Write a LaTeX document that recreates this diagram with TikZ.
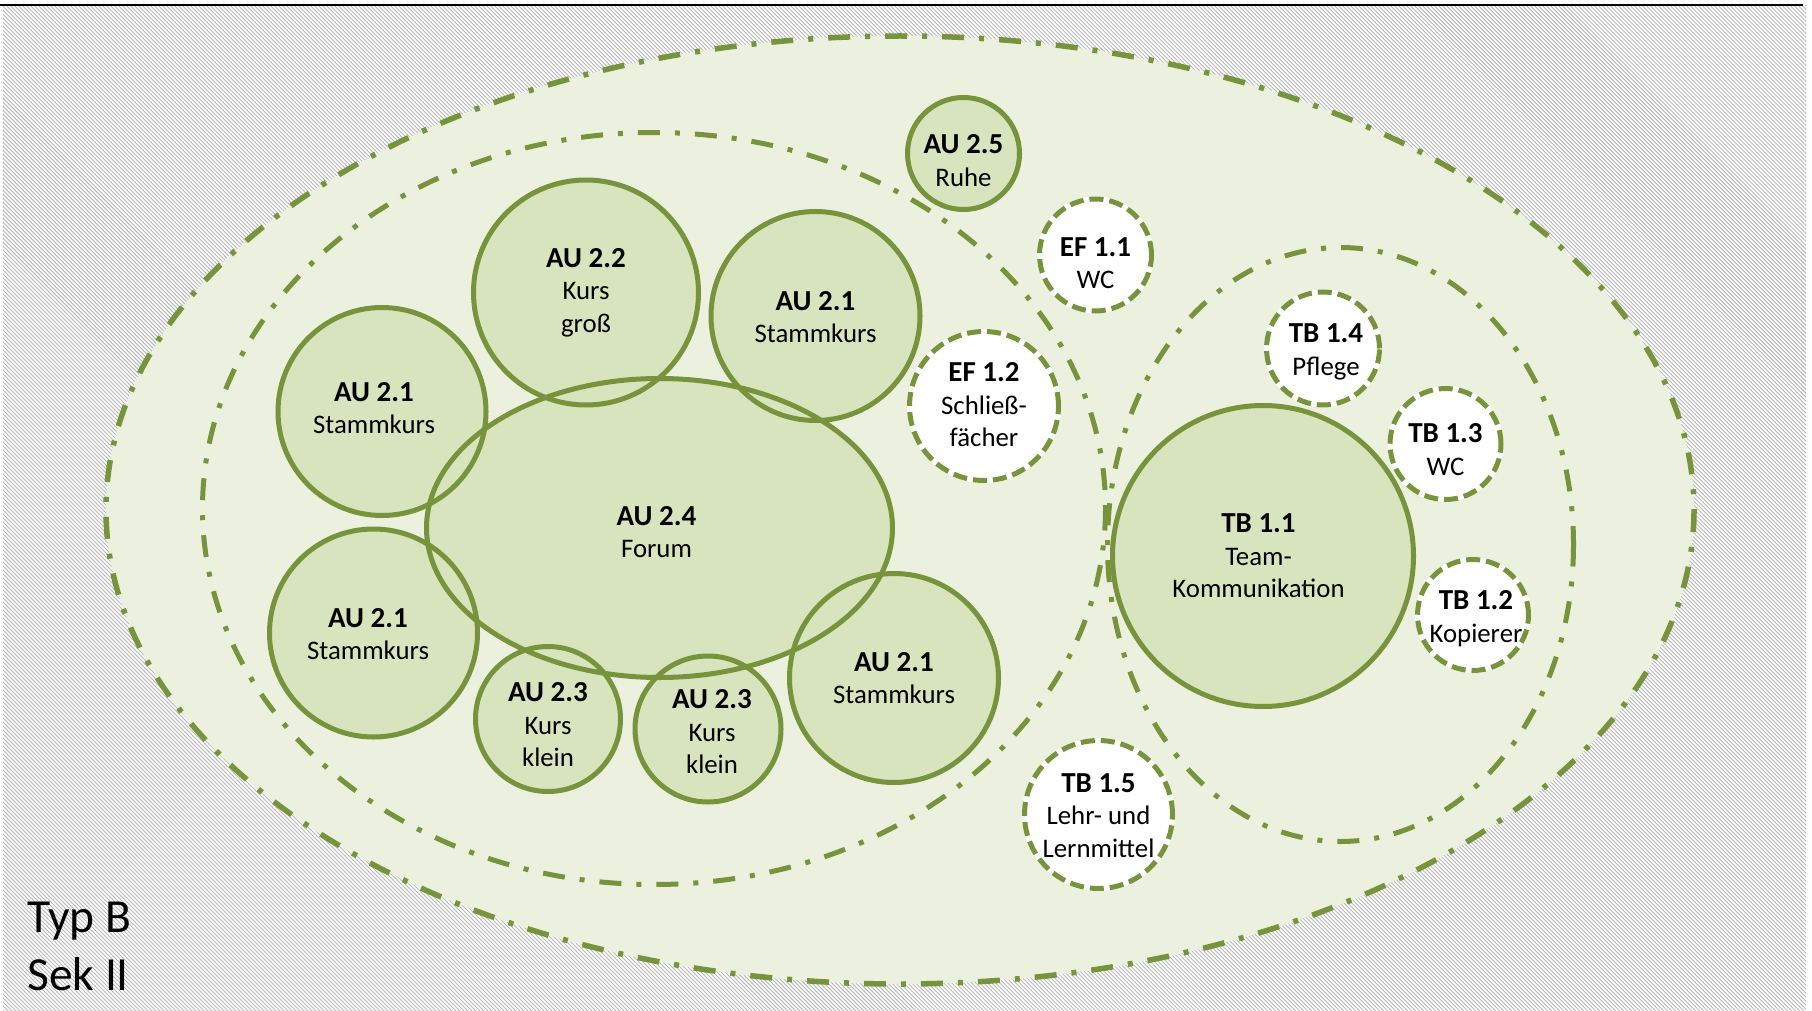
\documentclass[tikz,border=0pt]{standalone}
\usepackage{fontspec}
\setmainfont{Carlito}
\usetikzlibrary{patterns.meta,shapes.geometric}
\definecolor{olv}{HTML}{77933C}
\definecolor{pale}{HTML}{EBF1DE}
\definecolor{cfill}{HTML}{D7E4BD}
\newcommand{\twolab}[2]{{\fontsize{29}{32.5}\selectfont\bfseries #1}\\#2}
\begin{document}
\begin{tikzpicture}[x=1pt,y=-1pt,
  labelfont/.style={font=\fontsize{26.8}{32.5}\selectfont},
  room/.style={circle,draw=olv,line width=5pt,inner sep=0pt},
  auxroom/.style={circle,draw=olv,line width=5pt,dash pattern=on 14pt off 6pt,inner sep=0pt},
  roomtext/.style={align=center,inner sep=0pt,labelfont},
  zone/.style={draw=olv,line width=5pt,dash pattern=on 22pt off 15pt on 5pt off 15pt}]
% background
\useasboundingbox (0,0) rectangle (1812,1011);
\fill[white] (0,0) rectangle (1812,1011);
\fill[pattern={Lines[angle=-45,distance=2.828pt,line width=0.9pt]},pattern color=gray!55] (3,6) rectangle (1806,1011);
\draw[line width=2pt,black] (0,5) -- (1803,5);
% zones
\fill[pale] (900,510) ellipse [x radius=794, y radius=474];
\draw[zone,line width=5.5pt] (900,510) ellipse [x radius=794, y radius=474];
\draw[zone] (654,508.5) ellipse [x radius=451.5, y radius=376];
\draw[zone] (1340.5,544.5) ellipse [x radius=233, y radius=297];
% centres
\coordinate (p25) at (963.5,153.5);
\coordinate (p22) at (586,292.5);
\coordinate (p21a) at (815.5,316);
\coordinate (p21b) at (382,411.5);
\coordinate (p24) at (659.5,528);
\coordinate (p21c) at (373.5,633);
\coordinate (p23a) at (548,719);
\coordinate (p23b) at (708,729);
\coordinate (p21d) at (894,678);
\coordinate (p11) at (1263,556);
\coordinate (pe11) at (1095.5,255);
\coordinate (pe12) at (984,406);
\coordinate (pt14) at (1323,348.5);
\coordinate (pt13) at (1445.5,444);
\coordinate (pt12) at (1473,615);
\coordinate (pt15) at (1098.5,814.5);
% fills of green rooms
\fill[cfill] (p25) circle (56);
\fill[cfill] (p22) circle (112.5);
\fill[cfill] (p21a) circle (104.5);
\fill[cfill] (p21b) circle (104);
\fill[cfill] (p24) ellipse [x radius=233, y radius=149.5];
\fill[cfill] (p21c) circle (104);
\fill[cfill] (p23a) circle (72.5);
\fill[cfill] (p23b) circle (73);
\fill[cfill] (p21d) circle (104.5);
\fill[cfill] (p11) circle (150.5);
% white fills
\foreach \p/\r in {pe11/58.5,pe12/77,pt14/59,pt13/58,pt12/58,pt15/76.5}
  \fill[white] (\p) circle (\r);
% green rooms
\node[room,minimum size=112pt] (au25) at (p25) {};
\node[room,minimum size=225pt] (au22) at (p22) {};
\node[room,minimum size=209pt] (au21a) at (p21a) {};
\node[room,minimum size=208pt] (au21b) at (p21b) {};
\node[ellipse,draw=olv,line width=5pt,inner sep=0pt,minimum width=466pt,minimum height=299pt] (au24) at (p24) {};
\node[room,minimum size=208pt] (au21c) at (p21c) {};
\node[room,minimum size=145pt] (au23a) at (p23a) {};
\node[room,minimum size=146pt] (au23b) at (p23b) {};
\node[room,minimum size=209pt] (au21d) at (p21d) {};
\node[room,minimum size=301pt] (tb11) at (p11) {};
% dashed white rooms
\node[auxroom,minimum size=112pt] (ef11) at (pe11) {};
\node[auxroom,minimum size=149pt] (ef12) at (pe12) {};
\node[auxroom,minimum size=113pt] (tb14) at (pt14) {};
\node[auxroom,minimum size=111pt] (tb13) at (pt13) {};
\node[auxroom,minimum size=111pt] (tb12) at (pt12) {};
\node[auxroom,minimum size=148pt] (tb15) at (pt15) {};
% room texts
\node[roomtext] (l25) at ([yshift=-7pt]au25.center) {\twolab{AU 2.5}{Ruhe}};
\node[roomtext] (l22) at (au22.center) {\twolab{AU 2.2}{Kurs\\groß}};
\node[roomtext] (l21a) at ([yshift=-1pt]au21a.center) {\twolab{AU 2.1}{Stammkurs}};
\node[roomtext] (l21b) at ([xshift=-8pt,yshift=3.5pt]au21b.center) {\twolab{AU 2.1}{Stammkurs}};
\node[roomtext] (l24) at ([xshift=-3pt,yshift=-4pt]au24.center) {\twolab{AU 2.4}{Forum}};
\node[roomtext] (l21c) at ([xshift=-5.5pt,yshift=-1pt]au21c.center) {\twolab{AU 2.1}{Stammkurs}};
\node[roomtext] (l23a) at ([yshift=-6pt]au23a.center) {\twolab{AU 2.3}{Kurs\\klein}};
\node[roomtext] (l23b) at ([xshift=4pt,yshift=-3pt]au23b.center) {\twolab{AU 2.3}{Kurs\\klein}};
\node[roomtext] (l21d) at (au21d.center) {\twolab{AU 2.1}{Stammkurs}};
\node[roomtext] (l11) at ([xshift=-4.5pt]tb11.center) {\twolab{TB 1.1}{Team-\\Kommunikation}};
\node[roomtext] (le11) at ([yshift=-8pt]ef11.center) {\twolab{EF 1.1}{WC}};
\node[roomtext] (le12) at ([yshift=1pt]ef12.center) {\twolab{EF 1.2}{Schließ-\\fächer}};
\node[roomtext] (lt14) at ([xshift=3pt,yshift=-3.5pt]tb14.center) {\twolab{TB 1.4}{Pflege}};
\node[roomtext] (lt13) at ([yshift=-5.5pt]tb13.center) {\twolab{TB 1.3}{WC}};
\node[roomtext] (lt12) at ([xshift=3pt,yshift=-3.5pt]tb12.center) {\twolab{TB 1.2}{Kopierer}};
\node[roomtext] (lt15) at ([yshift=-1pt]tb15.center) {\twolab{TB 1.5}{Lehr- und\\Lernmittel}};
% title
\node[anchor=north west,align=left,inner sep=0pt,font=\fontsize{47.5}{58}\selectfont] (title) at (27,902) {Typ B\\Sek II};
\end{tikzpicture}
\end{document}
